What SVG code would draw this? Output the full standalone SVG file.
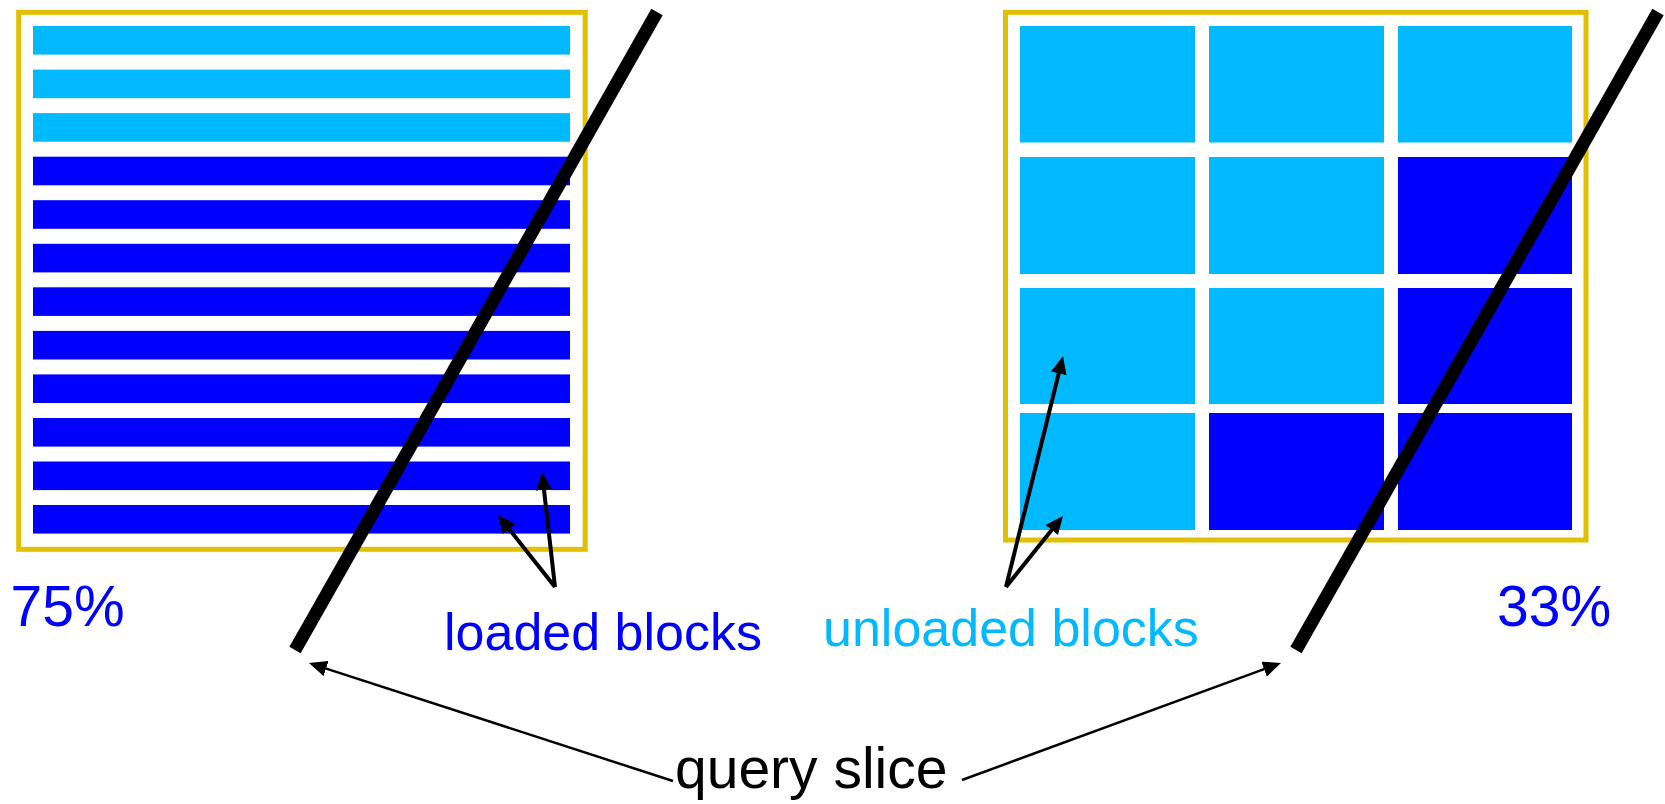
<svg xmlns="http://www.w3.org/2000/svg" width="1665" height="804" viewBox="0 0 1665 804">
  <style>
    .frame { fill: none; stroke: #E0C000; stroke-width: 5; }
    .hot { fill: #0000FF; }
    .cold { fill: #00B9FF; }
    .slice { stroke: #000; stroke-width: 13; stroke-linecap: butt; fill: none; }
    .ptr { stroke: #000; stroke-width: 4; fill: none; marker-end: url(#head); }
    .ptr-thin { stroke: #000; stroke-width: 2.5; fill: none; marker-end: url(#head); }
    text { font-family: "Liberation Sans", Arial, sans-serif; }
    .lbl { font-size: 52px; }
    .pct { font-size: 57px; fill: #0000FF; }
  </style>
  <defs>
    <marker id="head" markerUnits="userSpaceOnUse" markerWidth="18" markerHeight="16" refX="8" refY="8" orient="auto">
      <path d="M0,0 L18,8 L0,16 z" fill="#000"/>
    </marker>
  </defs>
  <rect width="1665" height="804" fill="#fff"/>

  <!-- row-striped layout: 12 horizontal blocks -->
  <g id="row-layout">
    <rect class="frame" x="18.7" y="12.3" width="566.5" height="537"/>
    <rect class="cold" x="33" y="26" width="537" height="28.6"/>
    <rect class="cold" x="33" y="69.6" width="537" height="28.6"/>
    <rect class="cold" x="33" y="113.1" width="537" height="28.6"/>
    <rect class="hot" x="33" y="156.7" width="537" height="28.6"/>
    <rect class="hot" x="33" y="200.2" width="537" height="28.6"/>
    <rect class="hot" x="33" y="243.8" width="537" height="28.6"/>
    <rect class="hot" x="33" y="287.3" width="537" height="28.6"/>
    <rect class="hot" x="33" y="330.9" width="537" height="28.6"/>
    <rect class="hot" x="33" y="374.4" width="537" height="28.6"/>
    <rect class="hot" x="33" y="418" width="537" height="28.6"/>
    <rect class="hot" x="33" y="461.5" width="537" height="28.6"/>
    <rect class="hot" x="33" y="505" width="537" height="28.6"/>
  </g>

  <!-- tiled layout: 3 x 4 blocks -->
  <g id="tile-layout">
    <rect class="frame" x="1005.5" y="12.3" width="580.5" height="527.7"/>
    <rect class="cold" x="1020" y="26" width="175" height="116.5"/>
    <rect class="cold" x="1209" y="26" width="175" height="116.5"/>
    <rect class="cold" x="1398" y="26" width="174" height="116.5"/>
    <rect class="cold" x="1020" y="157" width="175" height="117"/>
    <rect class="cold" x="1209" y="157" width="175" height="117"/>
    <rect class="hot" x="1398" y="157" width="174" height="117"/>
    <rect class="cold" x="1020" y="288" width="175" height="116"/>
    <rect class="cold" x="1209" y="288" width="175" height="116"/>
    <rect class="hot" x="1398" y="288" width="174" height="116"/>
    <rect class="cold" x="1020" y="413" width="175" height="117"/>
    <rect class="hot" x="1209" y="413" width="175" height="117"/>
    <rect class="hot" x="1398" y="413" width="174" height="117"/>
  </g>

  <!-- diagonal query slices -->
  <g id="slice-left">
    <line class="slice" x1="657" y1="12" x2="295" y2="650"/>
  </g>
  <g id="slice-right">
    <line class="slice" x1="1658" y1="12" x2="1296" y2="650"/>
  </g>

  <!-- labels -->
  <g id="pct-left"><text class="pct" x="10.6" y="626">75%</text></g>
  <g id="pct-right"><text class="pct" x="1497" y="626">33%</text></g>
  <g id="label-loaded"><text class="lbl" x="444" y="650" fill="#0000FF">loaded blocks</text></g>
  <g id="label-unloaded"><text class="lbl" x="823" y="646" fill="#00B9FF">unloaded blocks</text></g>
  <g id="label-query"><text x="675" y="788" font-size="57" fill="#000">query slice</text></g>

  <!-- pointers -->
  <g id="connectors">
    <line class="ptr" x1="555" y1="587" x2="543.1" y2="481.9"/>
    <line class="ptr" x1="555" y1="587" x2="504.2" y2="522.8"/>
    <line class="ptr" x1="1006" y1="587" x2="1060.6" y2="365.7"/>
    <line class="ptr" x1="1006" y1="587" x2="1056.7" y2="523.8"/>
    <line class="ptr-thin" x1="673" y1="781" x2="318.5" y2="666.1"/>
    <line class="ptr-thin" x1="962" y1="780" x2="1271.6" y2="666.4"/>
  </g>
</svg>
